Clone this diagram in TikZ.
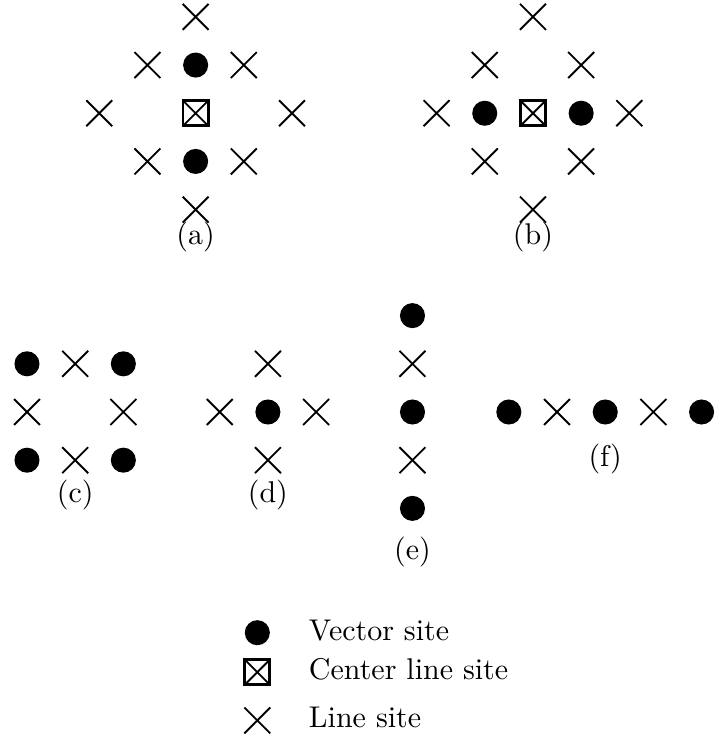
\documentclass[tikz,border=0pt]{standalone}
\usetikzlibrary{shapes.misc}

\tikzset{
  vsite/.style={circle,fill=black,inner sep=0pt,minimum size=5.2mm},
  lsite/.style={cross out,draw,line width=1.1pt,inner sep=0pt,minimum size=5mm},
  csite/.style={rectangle,draw,line width=1.6pt,inner sep=0pt,minimum size=5.2mm,
    path picture={
      \draw[line width=1.1pt] (path picture bounding box.south west) -- (path picture bounding box.north east)
                               (path picture bounding box.north west) -- (path picture bounding box.south east);}},
  % 10pt design size blown up, for the wide look of the labels
  lbl/.style={font=\fontsize{10}{12}\selectfont,inner sep=0pt,scale=1.77,transform shape}
}

\begin{document}
\begin{tikzpicture}
  \useasboundingbox (-4.06,-13.09) rectangle (10.84,2.35);
  % (a): vector sites above and below the center
  \begin{scope}
    \node[csite] (a0) at (0,0) {};
    \node[vsite] (av1) at (0,1) {};
    \node[vsite] (av2) at (0,-1) {};
    \foreach \x/\y in {0/2,-1/1,1/1,-2/0,2/0,-1/-1,1/-1,0/-2}{
      \node[lsite] (a\x\y) at (\x,\y) {};
    }
    \node[lbl] (alab) at (0,-2.56) {(a)};
  \end{scope}
  % (b): vector sites left and right of the center
  \begin{scope}[xshift=7cm]
    \node[csite] (b0) at (0,0) {};
    \node[vsite] (bv1) at (-1,0) {};
    \node[vsite] (bv2) at (1,0) {};
    \foreach \x/\y in {0/2,-1/1,1/1,-2/0,2/0,-1/-1,1/-1,0/-2}{
      \node[lsite] (b\x\y) at (\x,\y) {};
    }
    \node[lbl] (blab) at (0,-2.56) {(b)};
  \end{scope}
  % (c)
  \begin{scope}[xshift=-2.5cm,yshift=-6.2cm]
    \foreach \x/\y in {-1/1,1/1,-1/-1,1/-1}{
      \node[vsite] (cv\x\y) at (\x,\y) {};
    }
    \foreach \x/\y in {0/1,-1/0,1/0,0/-1}{
      \node[lsite] (c\x\y) at (\x,\y) {};
    }
    \node[lbl] (clab) at (0,-1.72) {(c)};
  \end{scope}
  % (d)
  \begin{scope}[xshift=1.5cm,yshift=-6.2cm]
    \node[vsite] (dv) at (0,0) {};
    \foreach \x/\y in {0/1,-1/0,1/0,0/-1}{
      \node[lsite] (d\x\y) at (\x,\y) {};
    }
    \node[lbl] (dlab) at (0,-1.72) {(d)};
  \end{scope}
  % (e): vertical chain
  \begin{scope}[xshift=4.5cm,yshift=-6.2cm]
    \foreach \y in {2,0,-2}{
      \node[vsite] (ev\y) at (0,\y) {};
    }
    \foreach \y in {1,-1}{
      \node[lsite] (e\y) at (0,\y) {};
    }
    \node[lbl] (elab) at (0,-2.9) {(e)};
  \end{scope}
  % (f): horizontal chain
  \begin{scope}[xshift=8.5cm,yshift=-6.2cm]
    \foreach \x in {-2,0,2}{
      \node[vsite] (fv\x) at (\x,0) {};
    }
    \foreach \x in {-1,1}{
      \node[lsite] (f\x) at (\x,0) {};
    }
    \node[lbl] (flab) at (0,-0.97) {(f)};
  \end{scope}
  % legend
  \node[vsite] (keyv) at (1.28,-10.78) {};
  \node[csite] (keyc) at (1.28,-11.6) {};
  \node[lsite] (keyl) at (1.28,-12.6) {};
  \node[lbl,anchor=base west] (keyvt) at (2.34,-10.95) {Vector site};
  \node[lbl,anchor=base west] (keyct) at (2.34,-11.76) {Center line site};
  \node[lbl,anchor=base west] (keylt) at (2.34,-12.75) {Line site};
\end{tikzpicture}
\end{document}
